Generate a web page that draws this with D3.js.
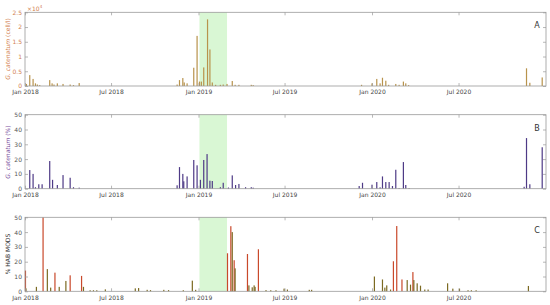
<!DOCTYPE html>
<html>
<head>
<meta charset="utf-8">
<script src="https://cdn.jsdelivr.net/npm/d3@7"></script>
<style>
  body { margin: 0; background: #fff; }
  text { font-family: "DejaVu Sans", sans-serif; }
</style>
</head>
<body>
<div id="chart"></div>
<script>
let width = 550,
    height = 305,
    margin = ({ left: 25, right: 4 });

// panel A: G. catenatum cell counts (x10^4 cell/l)
const cellDates = ["2018-01-04","2018-01-11","2018-01-18","2018-01-23","2018-01-27","2018-02-01","2018-02-22","2018-02-27","2018-03-03","2018-03-10","2018-03-22","2018-04-06","2018-04-13","2018-04-25",
  "2018-11-17","2018-11-22","2018-11-29","2018-12-02","2018-12-08","2018-12-22","2018-12-29","2019-01-03","2019-01-07","2019-01-12","2019-01-20","2019-01-25","2019-01-30","2019-02-06","2019-02-16","2019-02-22","2019-03-02","2019-03-13","2019-03-19","2019-03-27","2019-04-22","2019-04-26",
  "2019-12-10","2020-01-01","2020-01-11","2020-01-18","2020-01-23","2020-01-30","2020-02-05","2020-02-20","2020-02-27","2020-03-07","2020-03-12","2020-03-18","2020-11-21","2020-11-28","2020-12-24"];
const cellValues = [0.07,0.37,0.24,0.09,0.05,0.03,0.2,0.09,0.05,0.09,0.07,0.05,0.03,0.1,
  0.05,0.2,0.27,0.12,0.09,0.62,1.7,0.15,0.15,0.63,2.26,1.24,0.12,0.04,0.04,0.05,0.07,0.17,0.04,0.04,0.04,0.03,
  0.04,0.09,0.24,0.09,0.28,0.18,0.04,0.07,0.04,0.15,0.09,0.03,0.6,0.11,0.29];

// panel B: G. catenatum share (%)
const pctDates = ["2018-01-11","2018-01-18","2018-01-23","2018-01-30","2018-02-06","2018-02-22","2018-02-28","2018-03-10","2018-03-22","2018-04-06","2018-04-13","2018-04-25",
  "2018-11-17","2018-11-22","2018-11-29","2018-12-01","2018-12-08","2018-12-22","2018-12-29","2019-01-05","2019-01-12","2019-01-19","2019-01-25","2019-01-30","2019-02-16","2019-02-22","2019-03-05","2019-03-13","2019-03-20","2019-03-27","2019-04-10","2019-04-22","2019-04-26",
  "2019-12-05","2019-12-12","2020-01-01","2020-01-11","2020-01-18","2020-01-23","2020-01-30","2020-02-06","2020-02-13","2020-02-20","2020-02-27","2020-03-07","2020-03-12","2020-03-19","2020-11-16","2020-11-21","2020-11-28","2020-12-24"];
const pctValues = [12.6,10,1,3,3,18.7,6,2.5,9.2,7.4,1,0.7,
  2.3,14.6,10,5,8.3,19.4,15.8,6,19.4,23.4,5.4,5.2,1,4,0.8,9,2.5,3.2,1,1,0.7,
  1.8,4,2.7,4.5,0.9,8.3,4.5,4.5,1.8,12.8,0.4,18,2.5,0.4,1.3,34.2,3,28];

// panel C: % HAB MODS, two series
const habRedDates = ["2018-01-02","2018-02-08","2018-03-05","2018-04-06","2018-04-30","2019-03-03","2019-03-10","2019-03-17","2019-04-14","2019-05-07","2020-02-15","2020-02-22","2020-03-04","2020-03-27"];
const habRedValues = [14,50,12.6,10.8,10.4,25.7,44,21,25.2,28.4,20.3,44.1,8,13];
const habOliveDates = ["2018-01-03","2018-01-25","2018-02-17","2018-02-24","2018-03-14","2018-03-28","2018-05-04","2018-05-18","2018-05-25","2018-06-01","2018-06-19","2018-08-21","2018-08-28","2018-09-15","2018-09-22","2018-10-20","2018-10-30","2018-11-30","2018-12-19","2018-12-26",
  "2019-03-13","2019-03-19","2019-04-17","2019-04-24","2019-04-28","2019-04-30","2019-05-23","2019-06-02","2019-06-13","2019-06-30","2019-07-07","2019-08-22","2019-08-27",
  "2020-01-06","2020-01-23","2020-01-28","2020-02-01","2020-02-09","2020-03-15","2020-03-22","2020-03-29","2020-04-05","2020-04-12","2020-04-21","2020-04-28","2020-06-08","2020-06-19","2020-07-03","2020-07-21","2020-07-28","2020-08-07","2020-11-25"];
const habOliveValues = [2,3,15,2.5,3,7,3,0.7,0.7,0.7,1.3,2,2.2,1,0.8,1,0.8,0.7,7.2,1,
  40,15.5,4,2.7,4,3,0.8,0.7,0.7,1.8,1.2,1,1,
  10,8,2.5,4,1.2,7.6,4.5,7.6,5.4,3.8,1.2,1.2,5.4,1.8,1.8,0.7,0.7,0.7,3.6];

const xTicks = ["2018-01-01","2018-07-01","2019-01-01","2019-07-01","2020-01-01","2020-07-01"];
const shadeRange = ["2019-01-03","2019-03-02"];

const parse = d3.timeParse("%Y-%m-%d");
const fmt = d3.timeFormat("%b %Y");

const svg = d3.select("#chart")
  .append("svg")
  .attr("width", width)
  .attr("height", height);

let x = d3.scaleTime()
  .domain([parse("2018-01-01"), parse("2021-01-01")])
  .range([margin.left, width - margin.right]);

function panel(top, bottom, yMax, yTickVals, tickFmt, tickColor, letter, series) {
  let y = d3.scaleLinear().domain([0, yMax]).range([bottom, top]);
  let g = svg.append("g");

  // shaded period
  g.append("rect")
    .attr("x", x(parse(shadeRange[0])))
    .attr("width", x(parse(shadeRange[1])) - x(parse(shadeRange[0])))
    .attr("y", top)
    .attr("height", bottom - top)
    .attr("fill", "#d9f7d4");

  for (let s of series) {
    g.selectAll(null)
      .data(s.dates.map((d, i) => ({ date: parse(d), v: s.values[i] })))
      .join("rect")
      .attr("x", d => x(d.date) - 0.6)
      .attr("width", 1.2)
      .attr("y", d => y(Math.min(d.v, yMax)))
      .attr("height", d => bottom - y(Math.min(d.v, yMax)))
      .attr("fill", s.color);
  }

  // box
  g.append("rect")
    .attr("x", margin.left).attr("y", top)
    .attr("width", width - margin.right - margin.left)
    .attr("height", bottom - top)
    .attr("fill", "none")
    .attr("stroke", "#9a9a9a")
    .attr("stroke-width", 0.8);

  // axes (ticks inward)
  let xa = g.append("g").attr("transform", `translate(0,${bottom})`)
    .call(d3.axisBottom(x).tickValues(xTicks.map(parse)).tickFormat(fmt).tickSizeInner(-3).tickSizeOuter(0).tickPadding(4));
  g.append("g").attr("transform", `translate(0,${top})`)
    .call(d3.axisTop(x).tickValues(xTicks.map(parse)).tickFormat("").tickSizeInner(-3).tickSizeOuter(0));
  let ya = g.append("g").attr("transform", `translate(${margin.left},0)`)
    .call(d3.axisLeft(y).tickValues(yTickVals).tickFormat(tickFmt).tickSizeInner(-3).tickSizeOuter(0).tickPadding(3));
  g.append("g").attr("transform", `translate(${width - margin.right},0)`)
    .call(d3.axisRight(y).tickValues(yTickVals).tickFormat("").tickSizeInner(-3).tickSizeOuter(0));

  g.selectAll(".domain").remove();
  g.selectAll(".tick line").attr("stroke", "#9a9a9a").attr("stroke-width", 0.7);
  xa.selectAll("text").attr("font-size", 6).attr("fill", "#444");
  ya.selectAll("text").attr("font-size", 6).attr("fill", tickColor);

  g.append("text")
    .attr("x", 537).attr("y", top + 16)
    .attr("text-anchor", "middle")
    .attr("font-size", 8)
    .attr("fill", "#333")
    .text(letter);

  return { g, y };
}

let a = panel(12.3, 86, 2.5, [0, 0.5, 1, 1.5, 2, 2.5], d => d, "#d2804f", "A",
  [{ dates: cellDates, values: cellValues, color: "#b8934c" }]);
let b = panel(114.7, 188.7, 50, [0, 10, 20, 30, 40, 50], d => d, "#555", "B",
  [{ dates: pctDates, values: pctValues, color: "#4e3a86" }]);
let c = panel(217.3, 291.3, 50, [0, 10, 20, 30, 40, 50], d => d, "#555", "C",
  [{ dates: habRedDates, values: habRedValues, color: "#c9492b" },
   { dates: habOliveDates, values: habOliveValues, color: "#7c6a22" }]);

// exponent label for panel A
let ex = svg.append("text")
  .attr("x", 27).attr("y", 10.5)
  .attr("font-size", 6)
  .attr("fill", "#d2804f");
ex.append("tspan").text("\u00d710");
ex.append("tspan").attr("dy", -2.5).attr("font-size", 4).text("4");

// y labels
function yLabel(cy, color, parts) {
  let t = svg.append("text")
    .attr("transform", `translate(10,${cy}) rotate(-90)`)
    .attr("text-anchor", "middle")
    .attr("font-size", 6)
    .attr("fill", color);
  for (let p of parts) {
    t.append("tspan").attr("font-style", p.italic ? "italic" : "normal").text(p.text);
  }
}
yLabel(49, "#d2804f", [{ text: "G. catenatum", italic: true }, { text: " (cell/l)" }]);
yLabel(152, "#7a4f9e", [{ text: "G. catenatum", italic: true }, { text: " (%)" }]);
yLabel(254, "#333", [{ text: "% HAB MODS" }]);
</script>
</body>
</html>
